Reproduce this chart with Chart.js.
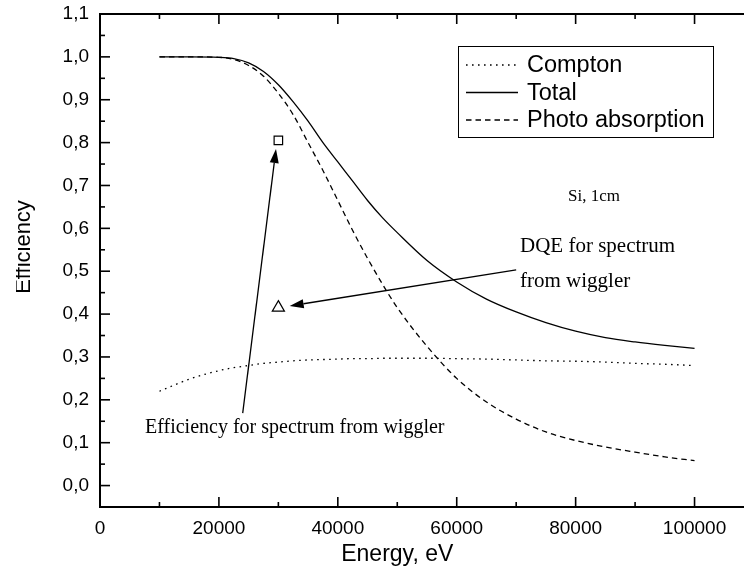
<!DOCTYPE html>
<html>
<head>
<meta charset="utf-8">
<script src="https://cdn.jsdelivr.net/npm/chart.js@4"></script>
<style>
html, body { margin: 0; padding: 0; overflow: hidden; background: #fff; }
#wrap { width: 770px; height: 575px; position: relative; }
</style>
</head>
<body>
<div id="wrap"><canvas id="chart"></canvas></div>
<script>
const energy = [10000, 15000, 20000, 22500, 25000, 27500, 30000, 32500, 35000, 37500, 40000, 42500, 45000,
  47500, 50000, 55000, 60000, 65000, 70000, 75000, 80000, 85000, 90000, 95000, 100000]
const compton = [0.22, 0.248, 0.268, 0.275, 0.28, 0.285, 0.288, 0.291, 0.293, 0.294, 0.295, 0.296, 0.296,
  0.297, 0.297, 0.297, 0.296, 0.295, 0.293, 0.291, 0.29, 0.288, 0.285, 0.283, 0.28]
const total = [1.0, 1.0, 0.999, 0.996, 0.986, 0.966, 0.935, 0.895, 0.85, 0.80, 0.755, 0.71, 0.665,
  0.625, 0.59, 0.525, 0.475, 0.435, 0.405, 0.38, 0.36, 0.345, 0.335, 0.327, 0.32]
const photo = [1.0, 1.0, 0.999, 0.994, 0.98, 0.955, 0.915, 0.865, 0.80, 0.735, 0.665, 0.595, 0.53,
  0.47, 0.415, 0.325, 0.25, 0.195, 0.155, 0.125, 0.105, 0.09, 0.078, 0.067, 0.058]

const seriesNames = ['Compton', 'Total', 'Photo absorption']
const seriesDash = [[1.6, 4.4], [], [5.5, 4]]

// single points: efficiency (square) and DQE (triangle) for the wiggler spectrum
const wigglerEnergy = 30000
const wigglerEff = 0.805
const wigglerDQE = 0.415

const xTicks = [0, 20000, 40000, 60000, 80000, 100000]
const yTicks = [0, 0.1, 0.2, 0.3, 0.4, 0.5, 0.6, 0.7, 0.8, 0.9, 1.0, 1.1]

const sans = '"Liberation Sans", Arial, sans-serif'
const serif = '"Liberation Serif", "Times New Roman", serif'

function pts(ys) {
  return energy.map((e, i) => ({ x: e, y: ys[i] }))
}

function line(ctx, x1, y1, x2, y2) {
  ctx.beginPath()
  ctx.moveTo(x1, y1)
  ctx.lineTo(x2, y2)
  ctx.stroke()
}

function arrow(ctx, x1, y1, x2, y2) {
  const ang = Math.atan2(y2 - y1, x2 - x1)
  const len = 14, w = 4.5
  const bx = x2 - len * Math.cos(ang), by = y2 - len * Math.sin(ang)
  ctx.lineWidth = 1.3
  line(ctx, x1, y1, bx, by)
  ctx.beginPath()
  ctx.moveTo(x2, y2)
  ctx.lineTo(bx + w * Math.sin(ang), by - w * Math.cos(ang))
  ctx.lineTo(bx - w * Math.sin(ang), by + w * Math.cos(ang))
  ctx.closePath()
  ctx.fill()
}

const decor = {
  id: 'decor',
  afterDraw(chart) {
    const { ctx, chartArea: a, scales: { x, y } } = chart
    ctx.save()
    ctx.strokeStyle = '#000'
    ctx.fillStyle = '#000'
    ctx.setLineDash([])

    // frame with inward ticks on all four sides
    ctx.lineWidth = 2
    ctx.strokeRect(a.left, a.top, a.right - a.left, a.bottom - a.top)
    ctx.lineWidth = 1.6
    for (let v = 0; v <= 110000; v += 10000) {
      const px = x.getPixelForValue(v)
      const len = v % 20000 === 0 ? 10 : 5
      line(ctx, px, a.bottom, px, a.bottom - len)
      line(ctx, px, a.top, px, a.top + len)
    }
    for (let i = -1; i <= 22; i++) {
      const py = y.getPixelForValue(i * 0.05)
      const len = i % 2 === 0 ? 10 : 5
      line(ctx, a.left, py, a.left + len, py)
      line(ctx, a.right, py, a.right - len, py)
    }

    // axis titles
    ctx.font = '23px ' + sans
    ctx.textAlign = 'center'
    ctx.textBaseline = 'middle'
    ctx.fillText('Energy, eV', (x.getPixelForValue(0) + x.getPixelForValue(100000)) / 2, 555)
    ctx.save()
    ctx.beginPath()
    ctx.rect(16, 0, 60, 575)
    ctx.clip()
    ctx.translate(24, 247)
    ctx.rotate(-Math.PI / 2)
    ctx.font = '22px ' + sans
    ctx.fillText('Efficiency', 0, 0)
    ctx.restore()

    // legend
    const lx = 458, ly = 46
    ctx.lineWidth = 1
    ctx.strokeRect(lx + 0.5, ly + 0.5, 255, 91)
    ctx.font = '23.5px ' + sans
    ctx.textAlign = 'left'
    seriesNames.forEach((n, i) => {
      const cy = 65 + i * 27.5
      ctx.lineWidth = 1.3
      ctx.setLineDash(seriesDash[i])
      line(ctx, 466, cy, 518, cy)
      ctx.setLineDash([])
      ctx.fillText(n, 527, cy + 1)
    })

    // annotations
    ctx.font = '17px ' + serif
    ctx.fillText('Si, 1cm', 568, 197)
    ctx.font = '21px ' + serif
    ctx.fillText('DQE for spectrum', 520, 246)
    ctx.fillText('from wiggler', 520, 281)
    ctx.font = '20px ' + serif
    ctx.fillText('Efficiency for spectrum from wiggler', 145, 428)

    arrow(ctx, x.getPixelForValue(24000), y.getPixelForValue(0.169),
      x.getPixelForValue(29600), y.getPixelForValue(0.785))
    arrow(ctx, x.getPixelForValue(70000), y.getPixelForValue(0.503),
      x.getPixelForValue(31900), y.getPixelForValue(0.419))
    ctx.restore()
  }
}

const datasets = seriesNames.map((name, i) => ({
  label: name,
  data: pts([compton, total, photo][i]),
  showLine: true,
  borderColor: '#000',
  borderWidth: 1.3,
  borderDash: seriesDash[i],
  pointRadius: 0,
  cubicInterpolationMode: 'monotone',
  fill: false
}))
datasets.push({
  label: 'eff',
  data: [{ x: wigglerEnergy, y: wigglerEff }],
  showLine: false,
  pointStyle: 'rect',
  pointRadius: 6,
  pointBackgroundColor: '#fff',
  pointBorderColor: '#000',
  pointBorderWidth: 1.2
})
datasets.push({
  label: 'dqe',
  data: [{ x: wigglerEnergy, y: wigglerDQE }],
  showLine: false,
  pointStyle: 'triangle',
  pointRadius: 7,
  pointBackgroundColor: '#fff',
  pointBorderColor: '#000',
  pointBorderWidth: 1.2
})

const setTicks = list => scale => {
  scale.ticks = list.map(v => ({ value: v }))
}

new Chart(document.getElementById('chart'), {
  type: 'scatter',
  data: { datasets },
  options: {
    responsive: true,
    maintainAspectRatio: false,
    animation: false,
    layout: { padding: { top: 14, right: 16, left: 0, bottom: 0 } },
    plugins: { legend: { display: false }, tooltip: { enabled: false } },
    scales: {
      x: {
        type: 'linear',
        min: 0,
        max: 110000,
        afterBuildTicks: setTicks(xTicks),
        afterFit: s => { s.height = 68; s.paddingLeft = 0; s.paddingRight = 0 },
        grid: { display: false, drawTicks: false },
        border: { display: false },
        ticks: {
          padding: 10,
          maxRotation: 0,
          autoSkip: false,
          color: '#000',
          font: { family: sans, size: 19 },
          callback: v => String(v)
        }
      },
      y: {
        type: 'linear',
        min: -0.05,
        max: 1.1,
        afterBuildTicks: setTicks(yTicks),
        afterFit: s => { s.width = 100; s.paddingTop = 0; s.paddingBottom = 0 },
        grid: { display: false, drawTicks: false },
        border: { display: false },
        ticks: {
          padding: 11,
          autoSkip: false,
          color: '#000',
          font: { family: sans, size: 19 },
          callback: v => v.toFixed(1).replace('.', ',')
        }
      }
    }
  },
  plugins: [decor]
})
</script>
</body>
</html>
